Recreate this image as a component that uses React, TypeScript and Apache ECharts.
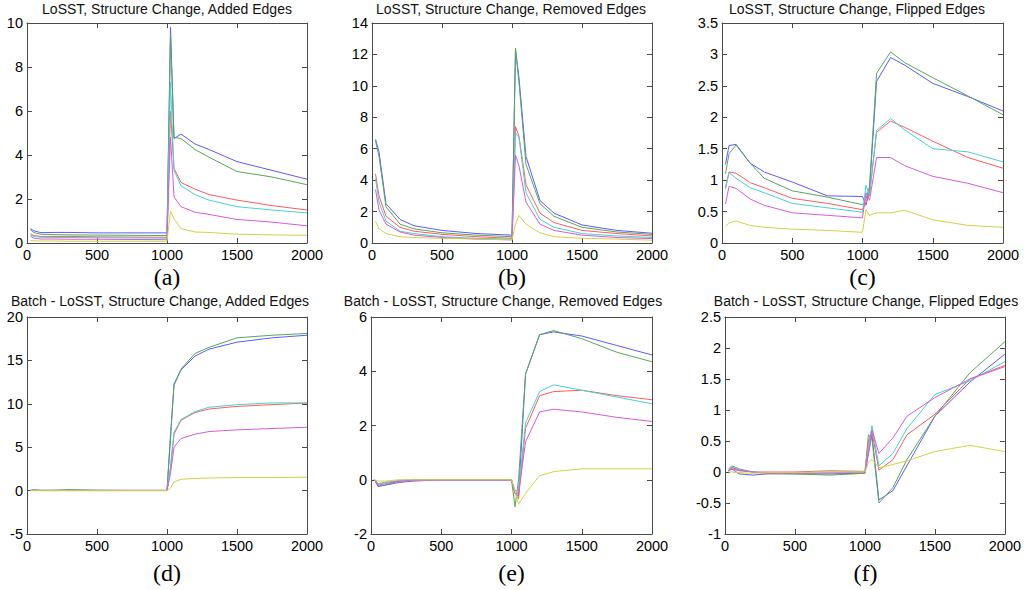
import React, { useEffect, useRef } from "react";
import * as echarts from "echarts";

// sample points (number of samples)
const xs = [25, 50, 100, 200, 300, 500, 750, 1000, 1025, 1050, 1100, 1200, 1300, 1500, 1750, 2000];

const lineNames = ["blue", "green", "red", "cyan", "magenta", "yellow"];
const lineColors = ["#5c5cff", "#5aa65a", "#ff5c5c", "#48d2d2", "#d85cd8", "#d2d248"];

// (a) LoSST, Added Edges
const aBlue = [0.65, 0.55, 0.47, 0.48, 0.48, 0.46, 0.46, 0.46, 9.8, 4.75, 4.95, 4.5, 4.25, 3.7, 3.3, 2.9];
const aGreen = [0.6, 0.47, 0.4, 0.38, 0.37, 0.36, 0.35, 0.34, 9.5, 4.8, 4.75, 4.25, 3.9, 3.25, 3.0, 2.65];
const aRed = [0.42, 0.33, 0.3, 0.3, 0.3, 0.28, 0.27, 0.26, 6.0, 3.4, 2.75, 2.45, 2.2, 1.95, 1.7, 1.5];
const aCyan = [0.35, 0.3, 0.26, 0.25, 0.25, 0.24, 0.23, 0.22, 7.3, 3.3, 2.6, 2.2, 1.95, 1.65, 1.5, 1.37];
const aMagenta = [0.3, 0.22, 0.18, 0.18, 0.17, 0.17, 0.16, 0.15, 4.8, 2.1, 1.65, 1.4, 1.3, 1.07, 0.95, 0.78];
const aYellow = [0.12, 0.1, 0.09, 0.09, 0.08, 0.08, 0.08, 0.08, 1.45, 1.1, 0.65, 0.5, 0.48, 0.4, 0.37, 0.35];

// (b) LoSST, Removed Edges
const bBlue = [6.6, 5.8, 2.5, 1.5, 1.1, 0.8, 0.6, 0.5, 12.3, 10.5, 5.5, 2.7, 1.9, 1.15, 0.8, 0.62];
const bGreen = [6.5, 5.5, 2.3, 1.2, 0.9, 0.65, 0.5, 0.4, 12.4, 10.2, 5.0, 2.5, 1.7, 1.0, 0.7, 0.55];
const bRed = [4.4, 3.0, 1.7, 1.0, 0.75, 0.55, 0.4, 0.3, 7.4, 6.8, 3.7, 1.9, 1.3, 0.8, 0.6, 0.45];
const bCyan = [4.1, 2.6, 1.4, 0.75, 0.6, 0.4, 0.3, 0.25, 7.0, 6.7, 3.2, 1.5, 1.0, 0.6, 0.45, 0.35];
const bMagenta = [3.4, 2.1, 1.2, 0.7, 0.5, 0.35, 0.25, 0.2, 5.6, 4.9, 2.6, 1.2, 0.8, 0.5, 0.35, 0.28];
const bYellow = [1.4, 0.9, 0.6, 0.4, 0.35, 0.3, 0.25, 0.2, 1.2, 1.75, 1.2, 0.65, 0.4, 0.3, 0.25, 0.18];

// (c) LoSST, Flipped Edges
const cBlue = [1.25, 1.55, 1.57, 1.27, 1.13, 0.97, 0.75, 0.74, 0.6, 0.85, 2.57, 2.95, 2.83, 2.54, 2.33, 2.1];
const cGreen = [1.1, 1.42, 1.56, 1.27, 1.03, 0.83, 0.73, 0.61, 0.7, 0.9, 2.7, 3.04, 2.87, 2.63, 2.34, 2.04];
const cRed = [0.88, 1.13, 1.11, 0.96, 0.88, 0.71, 0.63, 0.53, 0.65, 0.78, 1.76, 1.94, 1.84, 1.62, 1.36, 1.19];
const cCyan = [0.86, 1.12, 1.03, 0.88, 0.8, 0.63, 0.56, 0.49, 0.92, 0.75, 1.79, 1.98, 1.8, 1.5, 1.45, 1.29];
const cMagenta = [0.62, 0.9, 0.87, 0.7, 0.6, 0.48, 0.44, 0.4, 0.8, 0.68, 1.36, 1.36, 1.23, 1.06, 0.95, 0.8];
const cYellow = [0.27, 0.32, 0.35, 0.28, 0.25, 0.22, 0.2, 0.17, 0.53, 0.44, 0.48, 0.48, 0.52, 0.37, 0.28, 0.25];

// (d) Batch - LoSST, Added Edges
const dBlue = [0.05, 0.1, 0.02, 0.02, 0.02, 0.02, 0.02, 0.02, 6.0, 12.3, 13.9, 15.5, 16.3, 17.1, 17.6, 17.9];
const dGreen = [0.02, 0.03, 0.03, 0.05, 0.12, 0.05, 0.02, 0.02, 6.5, 12.1, 14.0, 15.8, 16.5, 17.6, 17.9, 18.1];
const dRed = [0.02, 0.02, 0.02, 0.02, 0.02, 0.02, 0.02, 0.02, 2.5, 6.5, 8.1, 9.0, 9.4, 9.7, 9.9, 10.1];
const dCyan = [0.02, 0.02, 0.02, 0.02, 0.02, 0.02, 0.02, 0.02, 2.8, 6.7, 8.2, 9.1, 9.6, 9.9, 10.1, 10.1];
const dMagenta = [0.0, 0.0, 0.0, 0.0, 0.0, 0.0, 0.0, 0.0, 2.0, 5.0, 6.0, 6.5, 6.8, 7.0, 7.15, 7.3];
const dYellow = [0.0, 0.0, 0.0, 0.0, 0.0, 0.0, 0.0, 0.0, 0.3, 1.0, 1.3, 1.4, 1.45, 1.5, 1.5, 1.55];

// (e) Batch - LoSST, Removed Edges
const eBlue = [0.0, -0.25, -0.2, -0.1, -0.05, 0.0, 0.0, 0.0, -0.5, -0.6, 3.9, 5.35, 5.45, 5.3, 4.95, 4.6];
const eGreen = [0.0, -0.2, -0.2, -0.05, -0.02, 0.0, 0.0, 0.0, -1.0, 0.0, 3.9, 5.35, 5.5, 5.2, 4.7, 4.35];
const eRed = [0.0, -0.15, -0.1, -0.05, 0.0, 0.0, 0.0, 0.0, -0.5, -0.7, 1.9, 3.1, 3.25, 3.3, 3.1, 2.95];
const eCyan = [0.0, -0.15, -0.1, -0.02, 0.0, 0.0, 0.0, 0.0, -0.4, -0.4, 2.1, 3.25, 3.5, 3.3, 3.05, 2.8];
const eMagenta = [0.0, -0.2, -0.15, -0.05, -0.02, -0.02, -0.02, -0.02, -0.5, -0.5, 1.4, 2.5, 2.6, 2.5, 2.3, 2.15];
const eYellow = [0.0, -0.05, -0.05, 0.0, 0.0, 0.0, 0.0, 0.0, -0.4, -0.9, -0.5, 0.15, 0.3, 0.4, 0.4, 0.4];

// (f) Batch - LoSST, Flipped Edges
const fBlue = [0.02, 0.05, -0.03, -0.05, -0.03, -0.03, -0.03, -0.02, 0.3, 0.6, -0.45, -0.3, 0.1, 0.9, 1.45, 1.9];
const fGreen = [0.05, 0.1, 0.05, 0.0, -0.02, -0.03, -0.05, -0.02, 0.6, 0.55, -0.5, -0.25, 0.2, 0.9, 1.6, 2.1];
const fRed = [0.02, 0.05, 0.02, 0.0, 0.0, 0.0, 0.02, 0.01, 0.5, 0.65, 0.03, 0.2, 0.6, 0.93, 1.5, 1.72];
const fCyan = [0.03, 0.08, 0.03, 0.0, -0.01, -0.01, 0.0, 0.0, 0.4, 0.75, 0.1, 0.3, 0.7, 1.25, 1.47, 1.78];
const fMagenta = [0.02, 0.07, 0.03, 0.0, -0.02, -0.02, -0.01, -0.01, 0.3, 0.68, 0.3, 0.55, 0.9, 1.2, 1.5, 1.7];
const fYellow = [0.0, 0.0, -0.01, -0.02, -0.01, -0.01, 0.0, 0.0, 0.15, 0.2, 0.07, 0.12, 0.18, 0.33, 0.43, 0.33];

const panelTitles = [
  "LoSST, Structure Change, Added Edges",
  "LoSST, Structure Change, Removed Edges",
  "LoSST, Structure Change, Flipped Edges",
  "Batch - LoSST, Structure Change, Added Edges",
  "Batch - LoSST, Structure Change, Removed Edges",
  "Batch - LoSST, Structure Change, Flipped Edges",
];
const panelLetters = ["(a)", "(b)", "(c)", "(d)", "(e)", "(f)"];
const xTicks = { min: 0, max: 2000, interval: 500 };
const yRanges = [
  { min: 0, max: 10, interval: 2 },
  { min: 0, max: 14, interval: 2 },
  { min: 0, max: 3.5, interval: 0.5 },
  { min: -5, max: 20, interval: 5 },
  { min: -2, max: 6, interval: 2 },
  { min: -1, max: 2.5, interval: 0.5 },
];
const panelData = [
  [aBlue, aGreen, aRed, aCyan, aMagenta, aYellow],
  [bBlue, bGreen, bRed, bCyan, bMagenta, bYellow],
  [cBlue, cGreen, cRed, cCyan, cMagenta, cYellow],
  [dBlue, dGreen, dRed, dCyan, dMagenta, dYellow],
  [eBlue, eGreen, eRed, eCyan, eMagenta, eYellow],
  [fBlue, fGreen, fRed, fCyan, fMagenta, fYellow],
];

// layout (pixels)
const boxes = [
  { left: 27, top: 23, width: 280, height: 220, titleX: 167, titleY: 9, letterY: 277 },
  { left: 372, top: 23, width: 280, height: 220, titleX: 511, titleY: 9, letterY: 277 },
  { left: 722, top: 23, width: 281, height: 220, titleX: 857, titleY: 9, letterY: 277 },
  { left: 27, top: 317, width: 280, height: 217, titleX: 160, titleY: 301, letterY: 573 },
  { left: 371, top: 317, width: 281, height: 217, titleX: 503, titleY: 301, letterY: 573 },
  { left: 725, top: 317, width: 281, height: 217, titleX: 866, titleY: 301, letterY: 573 },
];

const axisColor = "#4a4a4a";
const font = "'Liberation Sans', Arial, sans-serif";

function buildOption() {
  const grid: any[] = [];
  const xAxis: any[] = [];
  const yAxis: any[] = [];
  const series: any[] = [];
  const graphic: any[] = [];
  const lineStyle = { color: axisColor, width: 1 };
  const fmt = (v: number) => String(v);

  boxes.forEach((b, i) => {
    grid.push({ left: b.left, top: b.top, width: b.width, height: b.height, show: false });
    const common = {
      gridIndex: i,
      type: "value",
      axisLine: { show: true, onZero: false, lineStyle },
      axisTick: { show: true, inside: true, length: 5, lineStyle },
      splitLine: { show: false },
    };
    xAxis.push({
      ...common,
      position: "bottom",
      ...xTicks,
      axisLabel: { show: true, color: "#000", fontSize: 14.5, fontFamily: font, margin: 4, formatter: fmt },
    });
    xAxis.push({
      ...common,
      position: "top",
      ...xTicks,
      axisLabel: { show: false },
    });
    yAxis.push({
      ...common,
      position: "left",
      ...yRanges[i],
      axisLabel: { show: true, color: "#000", fontSize: 14.5, fontFamily: font, margin: 4, formatter: fmt },
    });
    yAxis.push({
      ...common,
      position: "right",
      ...yRanges[i],
      axisLabel: { show: false },
    });
    panelData[i].forEach((vals, k) => {
      series.push({
        type: "line",
        name: lineNames[k],
        xAxisIndex: 2 * i,
        yAxisIndex: 2 * i,
        data: xs.map((x, j) => [x, vals[j]]),
        showSymbol: false,
        symbol: "none",
        lineStyle: { color: lineColors[k], width: 1 },
        itemStyle: { color: lineColors[k] },
        z: 2 + k,
      });
    });
    graphic.push({
      type: "text",
      x: b.titleX,
      y: b.titleY,
      style: {
        text: panelTitles[i],
        fill: "#111",
        font: `14px ${font}`,
        textAlign: "center",
        textVerticalAlign: "middle",
      },
    });
    graphic.push({
      type: "text",
      x: b.left + b.width / 2,
      y: b.letterY,
      style: {
        text: panelLetters[i],
        fill: "#000",
        font: `24px 'Liberation Serif', 'Times New Roman', serif`,
        textAlign: "center",
        textVerticalAlign: "middle",
      },
    });
  });

  return {
    animation: false,
    backgroundColor: "#ffffff",
    grid,
    xAxis,
    yAxis,
    series,
    graphic,
  };
}

export default function App() {
  const ref = useRef<HTMLDivElement>(null);
  useEffect(() => {
    if (!ref.current) return;
    const chart = echarts.init(ref.current, null, { renderer: "svg" });
    chart.setOption(buildOption() as any);
    return () => chart.dispose();
  }, []);
  return (
    <div
      ref={ref}
      style={{ position: "absolute", left: 0, top: 0, width: 1024, height: 590, background: "#fff" }}
    />
  );
}
